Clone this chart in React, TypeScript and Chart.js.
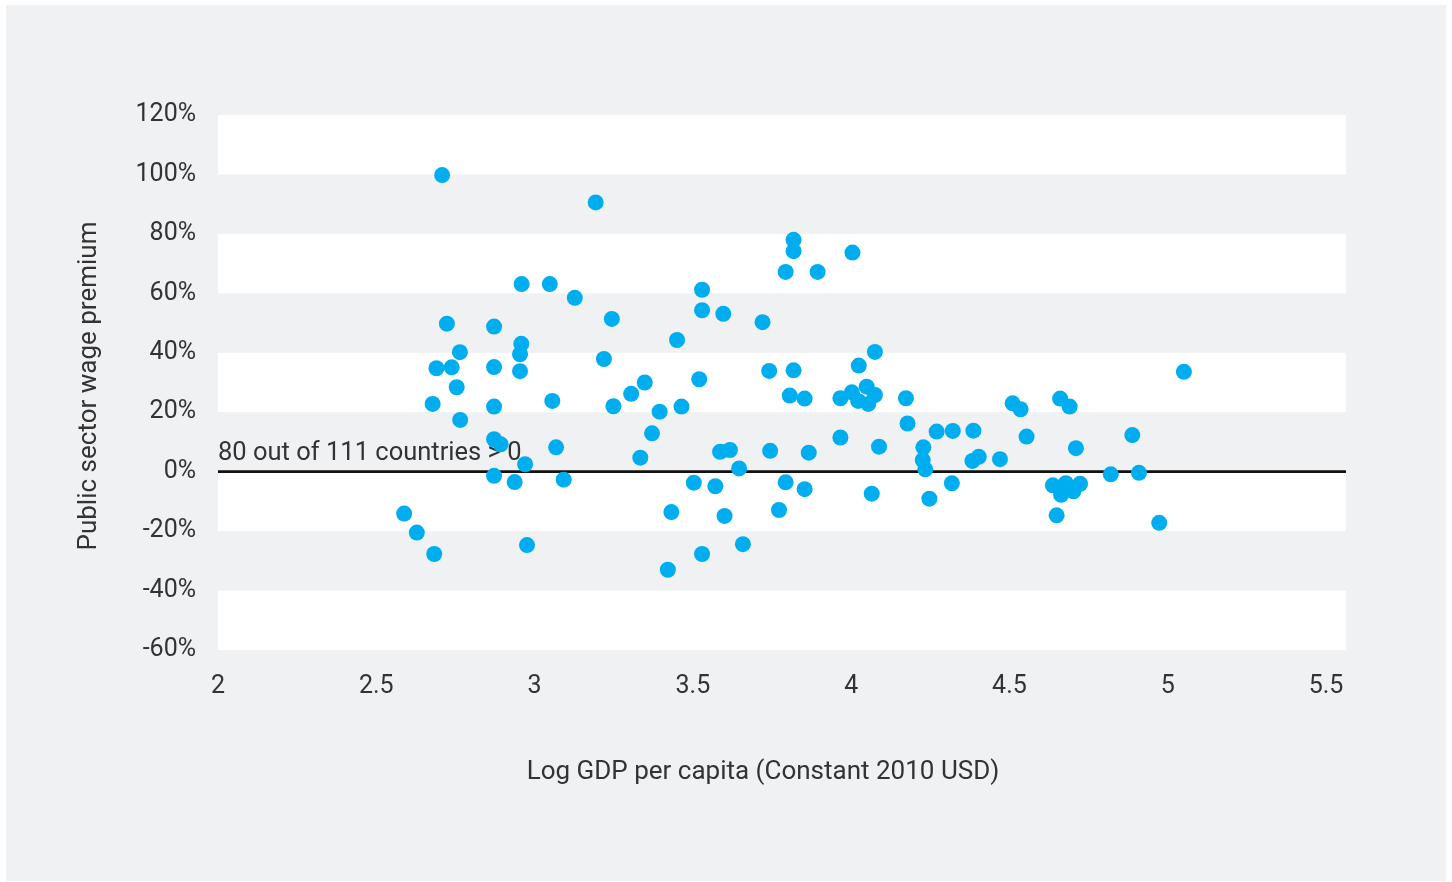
import React, { useEffect, useRef } from 'react';
import { Chart, registerables } from 'chart.js';

Chart.register(...registerables);

// Log GDP per capita (constant 2010 USD)
const gdp: number[] = [
  2.588, 2.628, 2.683, 2.708, 2.678, 2.690, 2.723, 2.738, 2.754, 2.764,
  2.765, 2.872, 2.872, 2.872, 2.872, 2.893, 2.872, 2.937, 2.959, 2.958,
  2.954, 2.954, 2.970, 2.976, 3.048, 3.056, 3.068, 3.092, 3.127, 3.193,
  3.219, 3.244, 3.249, 3.305, 3.334, 3.348, 3.371, 3.395, 3.421, 3.432,
  3.450, 3.464, 3.503, 3.520, 3.529, 3.529, 3.529, 3.571, 3.586, 3.596,
  3.600, 3.617, 3.646, 3.658, 3.720, 3.741, 3.744, 3.772, 3.793, 3.793,
  3.806, 3.818, 3.818, 3.818, 3.853, 3.853, 3.866, 3.894, 3.966, 3.966,
  4.004, 4.002, 4.024, 4.022, 4.049, 4.054, 4.065, 4.075, 4.075, 4.088,
  4.173, 4.178, 4.228, 4.226, 4.234, 4.247, 4.270, 4.318, 4.321, 4.386,
  4.383, 4.403, 4.470, 4.510, 4.535, 4.554, 4.637, 4.649, 4.660, 4.663,
  4.678, 4.690, 4.702, 4.710, 4.723, 4.820, 4.888, 4.909, 4.973, 5.051,
];

// Public sector wage premium (%)
const premium: number[] = [
  -14.1, -20.5, -27.7, 99.8, 22.8, 34.8, 49.8, 35.1, 28.4, 40.2,
  17.4, 48.8, 35.2, 21.9, 10.9, 9.2, -1.4, -3.5, 63.1, 43.0,
  39.5, 33.8, 2.5, -24.7, 63.1, 23.8, 8.2, -2.7, 58.5, 90.6,
  37.9, 51.4, 22.0, 26.2, 4.7, 30.0, 12.9, 20.2, -33.0, -13.6,
  44.3, 21.9, -3.7, 31.1, 61.2, 54.3, -27.7, -4.9, 6.7, 53.1,
  -14.9, 7.3, 1.1, -24.4, 50.3, 33.9, 7.0, -12.9, 67.2, -3.6,
  25.6, 78.0, 74.2, 34.1, 24.6, -5.9, 6.4, 67.2, 24.7, 11.5,
  73.7, 26.7, 35.7, 23.8, 28.6, 22.8, -7.4, 25.8, 40.3, 8.4,
  24.7, 16.2, 8.2, 3.9, 0.8, -9.1, 13.5, -3.9, 13.7, 13.8,
  3.6, 5.0, 4.2, 23.0, 21.0, 11.8, -4.6, -14.7, 24.6, -7.8,
  -3.9, 21.9, -6.6, 7.9, -4.1, -0.9, 12.3, -0.4, -17.2, 33.6,
];

const xTicks: number[] = [2, 2.5, 3, 3.5, 4, 4.5, 5, 5.5];
const xMax = 5.563;
const yTicks: number[] = [-60, -40, -20, 0, 20, 40, 60, 80, 100, 120];

const xTitle = 'Log GDP per capita (Constant 2010 USD)';
const yTitle = 'Public sector wage premium';
const annotation = '80 out of 111 countries > 0';

const TEXT = '#333333';
const FONT = 'Roboto, "Noto Sans", sans-serif';
const W = 1440;
const H = 876;

const bandsPlugin = {
  id: 'bandsPlugin',
  beforeDatasetsDraw(chart: any) {
    const { ctx, chartArea, scales } = chart;
    const y = scales.y;
    ctx.save();
    ctx.fillStyle = '#ffffff';
    for (let i = 0; i < yTicks.length - 1; i++) {
      if (i % 2 === 0) {
        const top = y.getPixelForValue(yTicks[i + 1]);
        const bot = y.getPixelForValue(yTicks[i]);
        ctx.fillRect(chartArea.left, top, chartArea.right - chartArea.left, bot - top);
      }
    }
    const y0 = y.getPixelForValue(0);
    ctx.strokeStyle = '#111111';
    ctx.lineWidth = 2.8;
    ctx.beginPath();
    ctx.moveTo(chartArea.left, y0);
    ctx.lineTo(chartArea.right, y0);
    ctx.stroke();
    ctx.fillStyle = TEXT;
    ctx.font = `25.5px ${FONT}`;
    ctx.textAlign = 'left';
    ctx.textBaseline = 'alphabetic';
    ctx.fillText(annotation, chartArea.left, y0 - 12);
    ctx.restore();
  },
  afterDraw(chart: any) {
    const { ctx } = chart;
    ctx.save();
    ctx.fillStyle = TEXT;
    ctx.font = `26px ${FONT}`;
    ctx.textAlign = 'center';
    ctx.textBaseline = 'middle';
    ctx.fillText(xTitle, 757, 767);
    ctx.translate(83, 381);
    ctx.rotate(-Math.PI / 2);
    ctx.fillText(yTitle, 0, 0);
    ctx.restore();
  },
};

export default function App() {
  const ref = useRef<HTMLCanvasElement | null>(null);

  useEffect(() => {
    if (!ref.current) return;
    const chart = new Chart(ref.current, {
      type: 'scatter',
      data: {
        datasets: [
          {
            data: gdp.map((g, i) => ({ x: g, y: premium[i] })),
            backgroundColor: '#00aeef',
            borderWidth: 0,
            pointRadius: 8,
            pointHoverRadius: 8,
          },
        ],
      },
      options: {
        animation: false,
        responsive: false,
        devicePixelRatio: 1,
        layout: { padding: { top: 110, right: 100, left: 0, bottom: 0 } },
        plugins: { legend: { display: false }, tooltip: { enabled: false } },
        scales: {
          x: {
            type: 'linear',
            min: xTicks[0],
            max: xMax,
            afterBuildTicks: (s: any) => {
              s.ticks = xTicks.map((v) => ({ value: v }));
            },
            afterFit: (s: any) => {
              s.height = 231;
            },
            grid: { display: false, drawTicks: false },
            border: { display: false },
            ticks: {
              autoSkip: false,
              maxRotation: 0,
              padding: 22,
              color: TEXT,
              font: { family: FONT, size: 25 },
              callback: (v: any) => String(v),
            },
          },
          y: {
            type: 'linear',
            min: yTicks[0],
            max: yTicks[yTicks.length - 1],
            afterBuildTicks: (s: any) => {
              s.ticks = yTicks.map((v) => ({ value: v }));
            },
            afterFit: (s: any) => {
              s.width = 212;
            },
            grid: { display: false, drawTicks: false },
            border: { display: false },
            ticks: {
              padding: 22,
              color: TEXT,
              font: { family: FONT, size: 25 },
              callback: (v: any) => `${v}%`,
            },
          },
        },
      },
      plugins: [bandsPlugin],
    });
    return () => chart.destroy();
  }, []);

  return (
    <div
      style={{
        position: 'absolute',
        left: 6,
        top: 5,
        width: W,
        height: H,
        background: '#f0f1f3',
      }}
    >
      <canvas ref={ref} width={W} height={H} style={{ display: 'block', width: W, height: H }} />
    </div>
  );
}
